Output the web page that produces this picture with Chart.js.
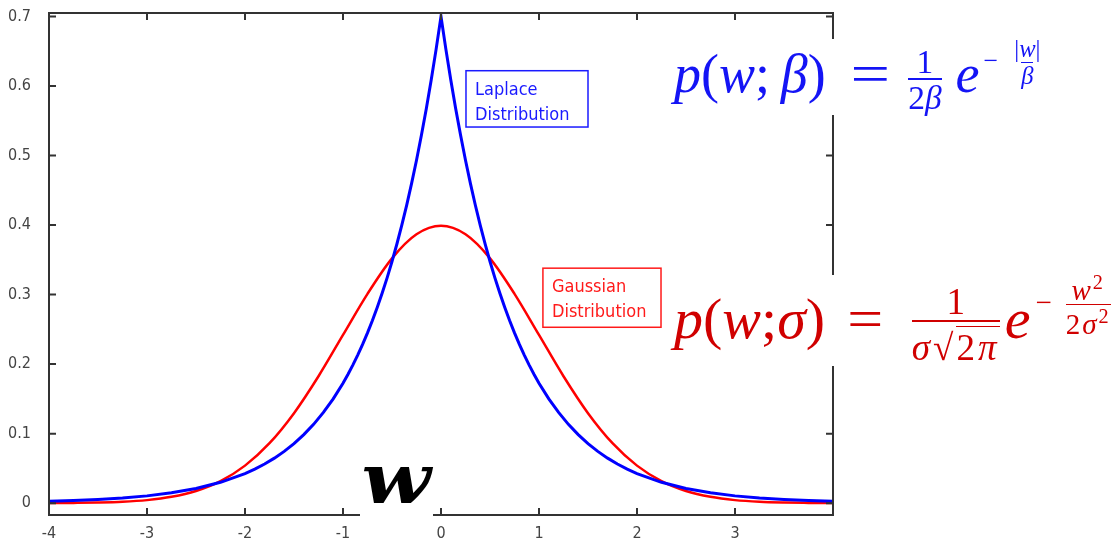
<!DOCTYPE html>
<html>
<head>
<meta charset="utf-8">
<script src="https://cdn.jsdelivr.net/npm/chart.js@4"></script>
<style>
  body { margin: 0; background: #fff; }
  #wrap { position: relative; width: 1113px; height: 540px; }
  .formula {
    position: absolute; background: #fff; white-space: nowrap;
    font-family: "Liberation Serif", "DejaVu Serif", serif; line-height: 1;
    padding: 6px 4px 0 4px;
  }
  .eq { display: inline-block; transform: scaleX(1.3); }
  .frac {
    display: inline-flex; flex-direction: column; align-items: center;
    vertical-align: middle; font-size: 0.62em; margin: 0 2px;
  }
  .frac .den { border-top: 2px solid currentColor; padding-top: 1px; }
  .sup { position: relative; top: -0.9em; font-size: 0.48em; margin-left: 2px; }
  .sup .frac { font-size: 0.95em; }
  .sup .frac .den { border-top-width: 1.5px; }
  .vinc { display: inline-block; border-top: 1.5px solid currentColor; padding-top: 2px; }
  #bigw {
    position: absolute; background: #fff; color: #000; text-align: center;
    font-family: "DejaVu Serif", serif; font-style: italic; font-weight: bold;
    font-size: 70px; line-height: 1; padding: 0 0 4px 0;
  }
  #bigw span { display: inline-block; transform: scaleX(1.15); }
</style>
</head>
<body>
<div id="wrap">
  <canvas id="grafico"></canvas>
  <div class="formula" id="f1" style="color:#1414f5; font-size:54px; left:670px; top:39px;">
    <i>p</i>(<i>w</i>;&thinsp;<i>β</i>)<span class="eq" style="margin:0 21px 0 29px;">=</span><span class="frac"><span>1</span><span class="den">2<i>β</i></span></span><i style="margin-left:12px;">e</i><span class="sup" style="margin-left:4px;">−<span class="frac" style="margin-left:16px;"><span>|<i>w</i>|</span><span class="den"><i>β</i></span></span></span>
  </div>
  <div class="formula" id="f2" style="color:#d00000; font-size:58px; left:670px; top:275px; padding-top:8px;">
    <i>p</i>(<i>w</i>;<i>σ</i>)<span class="eq" style="margin:0 28px 0 24px; transform:scaleX(1.1);">=</span><span class="frac" style="font-size:0.64em;"><span>1</span><span class="den" style="padding-top:4px; letter-spacing:3px;"><i>σ</i>√<span class="vinc">2<i>π</i></span></span></span><i style="margin-left:3px;">e</i><span class="sup" style="font-size:0.5em; margin-left:5px;">−<span class="frac" style="margin-left:14px; font-size:1em; letter-spacing:2px;"><span><i>w</i><sup style="font-size:0.7em">2</sup></span><span class="den">2<i>σ</i><sup style="font-size:0.7em">2</sup></span></span></span>
  </div>
  <div id="bigw" style="left:360px; top:444px; width:73px;"><span>w</span></div>
</div>
<script>
// Eixos
const xTicks = [-4, -3, -2, -1, 0, 1, 2, 3];
const yTicks = [0, 0.1, 0.2, 0.3, 0.4, 0.5, 0.6, 0.7];
const yTickLabels = ['0', '0.1', '0.2', '0.3', '0.4', '0.5', '0.6', '0.7'];

// Laplace (azul)
const laplaceX = [-4, -3.75, -3.5, -3.25, -3, -2.75, -2.5, -2.25,
  -2, -1.9, -1.8, -1.7, -1.6, -1.5, -1.4, -1.3, -1.2, -1.1,
  -1, -0.95, -0.9, -0.85, -0.8, -0.75, -0.7, -0.65, -0.6, -0.55, -0.5,
  -0.45, -0.4, -0.35, -0.3, -0.25, -0.2, -0.15, -0.1, -0.05, 0,
  0.05, 0.1, 0.15, 0.2, 0.25, 0.3, 0.35, 0.4, 0.45, 0.5,
  0.55, 0.6, 0.65, 0.7, 0.75, 0.8, 0.85, 0.9, 0.95, 1,
  1.1, 1.2, 1.3, 1.4, 1.5, 1.6, 1.7, 1.8, 1.9, 2,
  2.25, 2.5, 2.75, 3, 3.25, 3.5, 3.75, 4];
const laplaceY = [0.0026, 0.0037, 0.0052, 0.0074, 0.0105, 0.0149, 0.0211, 0.0300,
  0.0426, 0.0490, 0.0563, 0.0648, 0.0745, 0.0857, 0.0986, 0.1134, 0.1305, 0.1501,
  0.1726, 0.1851, 0.1986, 0.2130, 0.2284, 0.2449, 0.2627, 0.2818, 0.3022, 0.3241, 0.3476,
  0.3728, 0.3998, 0.4288, 0.4599, 0.4933, 0.5291, 0.5674, 0.6086, 0.6527, 0.7000,
  0.6527, 0.6086, 0.5674, 0.5291, 0.4933, 0.4599, 0.4288, 0.3998, 0.3728, 0.3476,
  0.3241, 0.3022, 0.2818, 0.2627, 0.2449, 0.2284, 0.2130, 0.1986, 0.1851, 0.1726,
  0.1501, 0.1305, 0.1134, 0.0986, 0.0857, 0.0745, 0.0648, 0.0563, 0.0490, 0.0426,
  0.0300, 0.0211, 0.0149, 0.0105, 0.0074, 0.0052, 0.0037, 0.0026];

// Gaussiana (vermelho)
const gaussX = [-4, -3.75, -3.5, -3.25, -3, -2.75, -2.5, -2.25, -2, -1.75, -1.5, -1.25, -1, -0.75, -0.5, -0.25, 0,
  0.25, 0.5, 0.75, 1, 1.25, 1.5, 1.75, 2, 2.25, 2.5, 2.75, 3, 3.25, 3.5, 3.75, 4];
const gaussY = [0.0001, 0.0004, 0.0009, 0.0020, 0.0044, 0.0091, 0.0175, 0.0317, 0.0540, 0.0863, 0.1295, 0.1826, 0.2420, 0.3011, 0.3521, 0.3867, 0.3989,
  0.3867, 0.3521, 0.3011, 0.2420, 0.1826, 0.1295, 0.0863, 0.0540, 0.0317, 0.0175, 0.0091, 0.0044, 0.0020, 0.0009, 0.0004, 0.0001];

const fonteTicks = { family: '"DejaVu Sans Condensed", "DejaVu Sans", sans-serif', size: 16 };

// Moldura com ticks para dentro + caixas de texto
const molduraPlugin = {
  id: 'moldura',
  afterDraw(chart) {
    const { ctx, chartArea: a, scales: { x, y } } = chart;
    ctx.save();
    ctx.strokeStyle = '#333';
    ctx.lineWidth = 2;
    ctx.strokeRect(a.left, a.top, a.right - a.left, a.bottom - a.top);
    ctx.beginPath();
    xTicks.forEach(v => {
      const px = x.getPixelForValue(v);
      ctx.moveTo(px, a.bottom); ctx.lineTo(px, a.bottom - 7);
      ctx.moveTo(px, a.top); ctx.lineTo(px, a.top + 7);
    });
    yTicks.forEach(v => {
      const py = y.getPixelForValue(v);
      ctx.moveTo(a.left, py); ctx.lineTo(a.left + 7, py);
      ctx.moveTo(a.right, py); ctx.lineTo(a.right - 7, py);
    });
    ctx.stroke();

    // caixas de legenda (em coordenadas de dados)
    const caixas = [
      { x0: 0.255, x1: 1.5, y0: 0.622, y1: 0.541, cor: '#1a1aff', linhas: ['Laplace', 'Distribution'] },
      { x0: 1.04, x1: 2.245, y0: 0.338, y1: 0.253, cor: '#ff1a1a', linhas: ['Gaussian', 'Distribution'] }
    ];
    caixas.forEach(c => {
      const l = x.getPixelForValue(c.x0), r = x.getPixelForValue(c.x1);
      const t = y.getPixelForValue(c.y0), b = y.getPixelForValue(c.y1);
      ctx.strokeStyle = c.cor;
      ctx.lineWidth = 1.5;
      ctx.strokeRect(l, t, r - l, b - t);
      ctx.fillStyle = c.cor;
      ctx.font = '18px "DejaVu Sans Condensed", "DejaVu Sans", sans-serif';
      ctx.textBaseline = 'alphabetic';
      ctx.fillText(c.linhas[0], l + 9, t + 24);
      ctx.fillText(c.linhas[1], l + 9, t + 49);
    });
    ctx.restore();
  }
};

const ctx = document.getElementById('grafico').getContext('2d');
const grafico = new Chart(ctx, {
  type: 'line',
  data: {
    datasets: [
      {
        label: 'Laplace',
        data: laplaceX.map((v, i) => ({ x: v, y: laplaceY[i] })),
        borderColor: '#0000ff',
        borderWidth: 3,
        pointRadius: 0,
        tension: 0,
        order: 0
      },
      {
        label: 'Gaussian',
        data: gaussX.map((v, i) => ({ x: v, y: gaussY[i] })),
        borderColor: '#ff0000',
        borderWidth: 2.5,
        pointRadius: 0,
        cubicInterpolationMode: 'monotone',
        order: 1
      }
    ]
  },
  options: {
    responsive: true,
    maintainAspectRatio: false,
    animation: false,
    layout: { padding: { top: 13, right: 280, bottom: 0, left: 0 } },
    plugins: { legend: { display: false }, tooltip: { enabled: false } },
    scales: {
      x: {
        type: 'linear',
        min: -4,
        max: 4,
        afterBuildTicks: s => { s.ticks = xTicks.map(v => ({ value: v })); },
        afterFit: s => { s.height = 25; s.paddingLeft = 0; s.paddingRight = 0; },
        grid: { display: false },
        border: { display: false },
        ticks: { color: '#444', font: fonteTicks, padding: 1, maxRotation: 0, callback: v => String(v) }
      },
      y: {
        min: -0.017,
        max: 0.705,
        afterBuildTicks: s => { s.ticks = yTicks.map(v => ({ value: v })); },
        afterFit: s => { s.width = 49; s.paddingTop = 0; s.paddingBottom = 0; },
        grid: { display: false },
        border: { display: false },
        ticks: { color: '#444', font: fonteTicks, padding: 10, callback: (v, i) => yTickLabels[i] }
      }
    }
  },
  plugins: [molduraPlugin]
});
</script>
</body>
</html>
